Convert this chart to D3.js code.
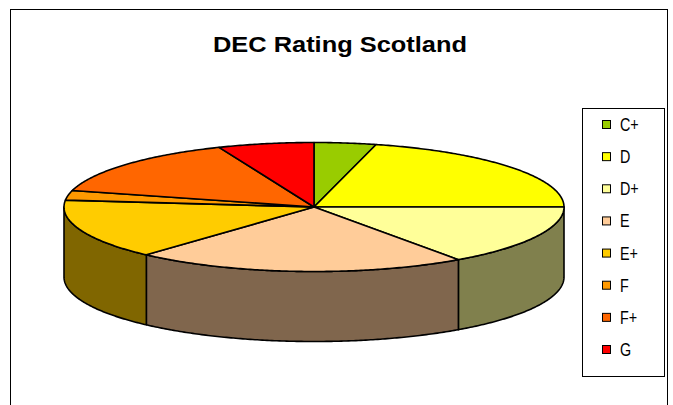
<!DOCTYPE html>
<html>
<head>
<meta charset="utf-8">
<script src="https://cdn.jsdelivr.net/npm/d3@7"></script>
<style>
  html, body { margin: 0; padding: 0; background: #fff; }
  svg { display: block; }
</style>
</head>
<body>
<script>
// DEC rating shares for Scotland (percent of buildings)
const ratings = ["C+", "D", "D+", "E", "E+", "F", "F+", "G"];
const shares  = [4.0, 21.0, 15.2, 21.5, 15.0, 2.4, 14.7, 6.2];
const colors  = ["#99CC00", "#FFFF00", "#FFFF99", "#FFCC99", "#FFCC00", "#FF9900", "#FF6600", "#FF0000"];
const title   = "DEC Rating Scotland";

const W = 673, H = 405;
const svg = d3.select("body").append("svg").attr("width", W).attr("height", H);

// chart frame
svg.append("rect")
  .attr("x", 10.5).attr("y", 9.5).attr("width", 657).attr("height", 430)
  .attr("fill", "#fff").attr("stroke", "#000").attr("stroke-width", 1);

// title
svg.append("text")
  .attr("x", 340).attr("y", 52)
  .attr("text-anchor", "middle")
  .attr("font-family", "'Liberation Sans', Arial, sans-serif")
  .attr("font-weight", "bold").attr("font-size", 22)
  .attr("textLength", 254).attr("lengthAdjust", "spacingAndGlyphs")
  .text(title);

// 3D pie geometry: elliptical top face with a vertical rim
const cx = 314, cy = 207, rx = 250, ry = 64.5, depth = 70;
const pt = (a, z) => [cx + rx * Math.sin(a), cy - ry * Math.cos(a) + z];
const arcPts = (a0, a1, z) => {
  const n = Math.max(2, Math.ceil(Math.abs(a1 - a0) / 0.01));
  return d3.range(n + 1).map(i => pt(a0 + (a1 - a0) * i / n, z));
};
const line = d3.line();

const pie = d3.pie().sort(null).startAngle(0).endAngle(2 * Math.PI);
const arcs = pie(shares);

const color = d3.scaleOrdinal().domain(ratings).range(colors);
const shade = c => { const k = d3.rgb(c); return d3.rgb(k.r * 0.5, k.g * 0.5, k.b * 0.5); };

const g = svg.append("g")
  .attr("stroke", "#000").attr("stroke-width", 1.6).attr("stroke-linejoin", "round");

// front rim of each slice (visible between 90° and 270°)
arcs.forEach((d, i) => {
  const s = Math.max(d.startAngle, Math.PI / 2);
  const e = Math.min(d.endAngle, 3 * Math.PI / 2);
  if (s >= e) return;
  const pts = arcPts(s, e, 0).concat(arcPts(e, s, depth));
  g.append("path")
    .attr("d", line(pts) + "Z")
    .attr("fill", shade(color(ratings[i])));
});

// top faces
arcs.forEach((d, i) => {
  const pts = [[cx, cy]].concat(arcPts(d.startAngle, d.endAngle, 0));
  g.append("path")
    .attr("d", line(pts) + "Z")
    .attr("fill", color(ratings[i]));
});

// legend
const lg = svg.append("g");
lg.append("rect")
  .attr("x", 582.5).attr("y", 108.5).attr("width", 82).attr("height", 268)
  .attr("fill", "#fff").attr("stroke", "#000").attr("stroke-width", 1);

const ly = d3.scalePoint().domain(ratings).range([125, 350]);
ratings.forEach(r => {
  const y = ly(r);
  lg.append("rect")
    .attr("x", 602.5).attr("y", y - 4.5).attr("width", 8).attr("height", 8)
    .attr("fill", color(r)).attr("stroke", "#000").attr("stroke-width", 1);
  lg.append("text")
    .attr("transform", `translate(620,${y + 6}) scale(0.82,1)`)
    .attr("font-family", "'Liberation Sans', Arial, sans-serif")
    .attr("font-size", 17.5)
    .text(r);
});
</script>
</body>
</html>
